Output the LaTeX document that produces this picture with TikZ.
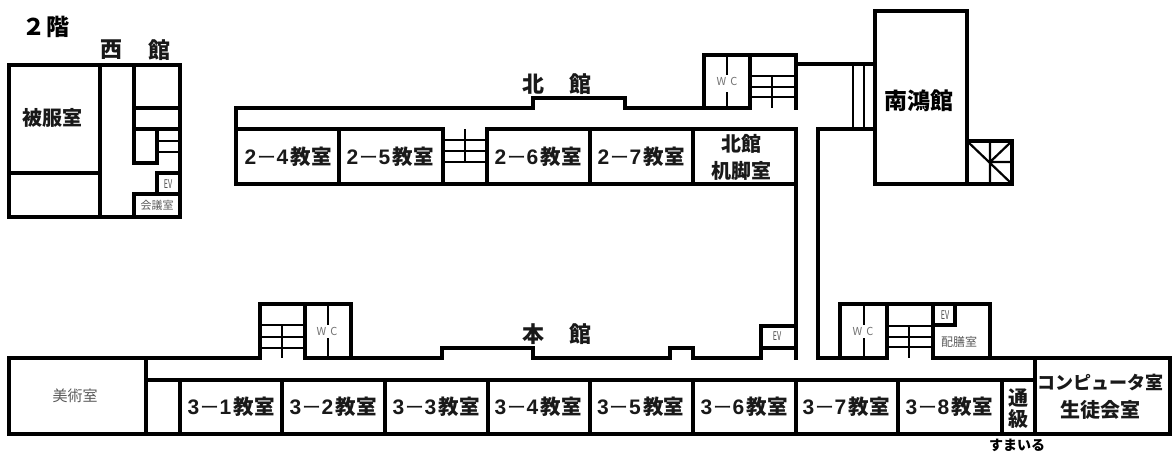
\documentclass[tikz,border=0pt]{standalone}
\usepackage{fontspec}
\setmainfont{Noto Sans CJK JP}[BoldFont={Noto Sans CJK JP Black}]
\newfontfamily\digitfont{Liberation Sans Bold}
\newcommand{\roomlabel}[2]{\makebox[16pt]{\fontsize{21}{21}\digitfont #1}\makebox[16pt]{\fontsize{19}{19}\selectfont\mdseries ー}\makebox[16pt]{\fontsize{21}{21}\digitfont #2}\fontsize{20.5}{20.5}\selectfont\bfseries 教室}
\tikzset{
  wall/.style={draw=black,line width=3.05pt,line cap=rect,line join=miter},
  thin wall/.style={draw=black,line width=2.2pt,line cap=butt},
  room/.style={font=\fontsize{18}{18}\selectfont\bfseries,inner sep=0pt,text=black!90},
  big/.style={font=\fontsize{20}{24}\selectfont\bfseries,inner sep=0pt,text=black!90},
  title/.style={font=\fontsize{22}{22}\selectfont\bfseries,inner sep=0pt,text=black!90},
  small/.style={font=\fontsize{#1}{#1}\selectfont,inner sep=0pt,text=black!65},
  small/.default=12,
  narrow/.style={font=\fontsize{12}{12}\selectfont,inner sep=0pt,text=black!70,xscale=.6},
  wc/.style={font=\fontsize{11}{11}\selectfont,inner sep=0pt,text=black!55}
}
\begin{document}
\begin{tikzpicture}[x=1pt,y=-1pt]
\useasboundingbox (0,0) rectangle (1172,456);
% west building
\draw[wall] (9,65) rectangle (180,217);
\draw[wall] (100,65) -- (100,217) (9,173) -- (100,173);
\draw[wall] (134,65) -- (134,163) -- (157,163) -- (157,129);
\draw[wall] (134,108) -- (180,108) (134,129) -- (180,129);
\draw[thin wall] (157,141) -- (180,141) (157,152) -- (180,152);
\draw[wall] (134,217) -- (134,194) -- (157,194) -- (157,173) -- (180,173) (157,194) -- (180,194);
% north building
\draw[wall] (796,129) -- (796,184) -- (236,184) -- (236,108) -- (533,108) -- (533,98) -- (625,98) -- (625,108) -- (704,108) -- (704,55) -- (796,55) -- (796,108);
\draw[wall] (750,55) -- (750,108) -- (704,108);
\draw[wall] (236,129) -- (443,129) -- (443,184) (487,184) -- (487,129) -- (796,129);
\draw[wall] (339,129) -- (339,184) (590,129) -- (590,184) (693,129) -- (693,184);
\draw[thin wall] (443,140) -- (487,140) (443,151) -- (487,151) (443,162) -- (487,162) (465,129) -- (465,162);
\draw[thin wall] (750,76) -- (796,76) (750,87) -- (796,87) (750,97) -- (796,97) (772,76) -- (772,108);
\draw[thin wall] (727,55) -- (727,75) (727,92) -- (727,108);
% link to south hall
\draw[wall] (796,64) -- (875,64) (875,129) -- (818,129) -- (818,358);
\draw[thin wall] (853,64) -- (853,129) (864,64) -- (864,129);
\draw[wall] (796,184) -- (796,358);
% south hall
\draw[wall] (875,11) rectangle (967,184);
\draw[wall] (967,141) rectangle (1012,184);
\draw[thin wall] (967,141) -- (1012,184) (990,162) -- (1012,141) (990,141) -- (990,184) (990,162) -- (1012,162);
% main building
\draw[wall] (9,358) rectangle (146,434);
\draw[wall] (146,358) -- (260,358) -- (260,304) -- (351,304) -- (351,358) -- (442,358) -- (442,348) -- (533,348) -- (533,358) -- (670,358) -- (670,348) -- (693,348) -- (693,358) -- (761,358) -- (761,326) -- (796,326);
\draw[wall] (761,348) -- (796,348);
\draw[wall] (305,304) -- (305,358) -- (351,358);
\draw[thin wall] (260,325) -- (305,325) (260,337) -- (305,337) (260,348) -- (305,348) (282,325) -- (282,358);
\draw[thin wall] (328,304) -- (328,325) (328,338) -- (328,358);
\draw[wall] (818,358) -- (840,358) -- (840,304) -- (990,304) -- (990,358) (887,304) -- (887,358) -- (840,358);
\draw[wall] (933,304) -- (933,358) -- (1035,358);
\draw[wall] (955,304) -- (955,325) -- (933,325);
\draw[thin wall] (887,326) -- (933,326) (887,337) -- (933,337) (887,347) -- (933,347) (909,326) -- (909,358);
\draw[thin wall] (864,304) -- (864,325) (864,338) -- (864,358);
\draw[wall] (146,380) -- (1035,380);
\draw[wall] (146,434) -- (1170,434) -- (1170,358) -- (1035,358) -- (1035,434);
\foreach \x in {180,282,385,488,590,693,796,898,1002}
  \draw[wall] (\x,380) -- (\x,434);
% labels
\node[font=\fontsize{23}{24}\selectfont\bfseries,inner sep=0pt] (floor) at (46,27) {２階};
\node[title] (west1) at (111,50) {西};
\node[title] (west2) at (159,50) {館};
\node[big] (hifuku) at (52,118) {被服室};
\node[small=11] (kaigi) at (157,205) {会議室};
\node[narrow] (ev1) at (168,184) {EV};
\node[title] (north1) at (533,84) {北};
\node[title] (north2) at (580,84) {館};
\node[room] (r24) at (287,157) {\roomlabel{2}{4}};
\node[room] (r25) at (389,157) {\roomlabel{2}{5}};
\node[room] (r26) at (537,157) {\roomlabel{2}{6}};
\node[room] (r27) at (640,157) {\roomlabel{2}{7}};
\node[big] (kita) at (741,144) {北館};
\node[big] (kyaku) at (741,171) {机脚室};
\node[wc] (wc1) at (727,81) {W\hspace{4pt}C};
\node[font=\fontsize{23}{24}\selectfont\bfseries,inner sep=0pt] (nanko) at (919,101) {南鴻館};
\node[wc] (wc2) at (327,331) {W\hspace{4pt}C};
\node[wc] (wc3) at (863,331) {W\hspace{4pt}C};
\node[narrow] (ev2) at (777,336) {EV};
\node[narrow] (ev3) at (945,315) {EV};
\node[small=12] (haizen) at (959,342) {配膳室};
\node[title] (main1) at (533,334) {本};
\node[title] (main2) at (580,334) {館};
\node[small=15] (bijutsu) at (75,396) {美術室};
\node[room] (r31) at (230,407) {\roomlabel{3}{1}};
\node[room] (r32) at (332,407) {\roomlabel{3}{2}};
\node[room] (r33) at (435,407) {\roomlabel{3}{3}};
\node[room] (r34) at (537,407) {\roomlabel{3}{4}};
\node[room] (r35) at (639.5,407) {\roomlabel{3}{5}};
\node[room] (r36) at (743,407) {\roomlabel{3}{6}};
\node[room] (r37) at (845,407) {\roomlabel{3}{7}};
\node[room] (r38) at (948,407) {\roomlabel{3}{8}};
\node[big] (tsu) at (1018,398) {通};
\node[big] (kyu) at (1018,419) {級};
\node[room] (pc) at (1100,383) {コンピュータ室};
\node[big] (seito) at (1100,410) {生徒会室};
\node[font=\fontsize{14}{14}\selectfont\bfseries,inner sep=0pt] (sumairu) at (1017,445) {すまいる};
\end{tikzpicture}
\end{document}
